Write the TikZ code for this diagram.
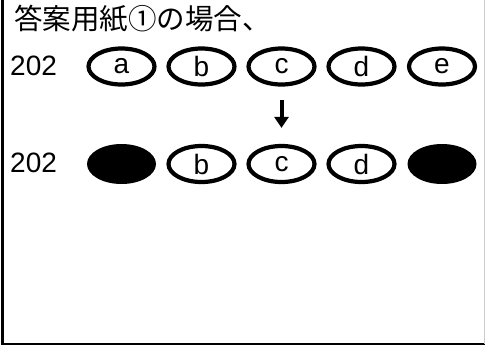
\documentclass[tikz,border=0pt]{standalone}
\usepackage{fontspec}
\setmainfont{Liberation Sans}
\newfontfamily\cjk{Noto Sans CJK JP}
\usetikzlibrary{shapes.geometric,arrows.meta}
\begin{document}
\begin{tikzpicture}[x=1pt,y=-1pt,
  bubble/.style={ellipse,draw,line width=4.2pt,minimum width=66pt,minimum height=36pt,inner sep=0pt,font=\fontsize{28}{28}\selectfont},
  filled/.style={ellipse,fill=black,minimum width=69pt,minimum height=40pt,inner sep=0pt},
  numlabel/.style={anchor=west,inner sep=0pt,font=\fontsize{28}{28}\selectfont},
  downarrow/.style={line width=4pt,-{Triangle[width=14pt,length=11pt]}}]
\useasboundingbox (0,0) rectangle (485,349);
\fill[white] (0,0) rectangle (485,349);
% frame
\draw[line width=2.5pt] (2.5,0) -- (2.5,344) -- (485,344);
\draw[line width=1pt,black!20] (484,0) -- (484,344);
% title
\node[anchor=west,inner sep=0pt,font=\cjk\fontsize{28.5}{28.5}\selectfont] (title) at (14,19) {答案用紙①の場合、};
% row 1
\node[numlabel] (n1) at (10,66) {202};
\node[bubble] (a1) at (121.5,66.5) {a};
\node[bubble] (b1) at (201.5,66.5) {b};
\node[bubble] (c1) at (281.5,66.5) {c};
\node[bubble] (d1) at (361.5,66.5) {d};
\node[bubble] (e1) at (442,66.5) {e};
% row 2
\node[numlabel] (n2) at (10,163) {202};
\node[filled] (a2) at (121.5,164) {};
\node[bubble] (b2) at (201.5,164) {b};
\node[bubble] (c2) at (281.5,164) {c};
\node[bubble] (d2) at (361.5,164) {d};
\node[filled] (e2) at (442,164) {};
% arrow
\draw[downarrow] ([yshift=-13.5pt]c1.south) -- ([yshift=16pt]c2.north);
\end{tikzpicture}
\end{document}
